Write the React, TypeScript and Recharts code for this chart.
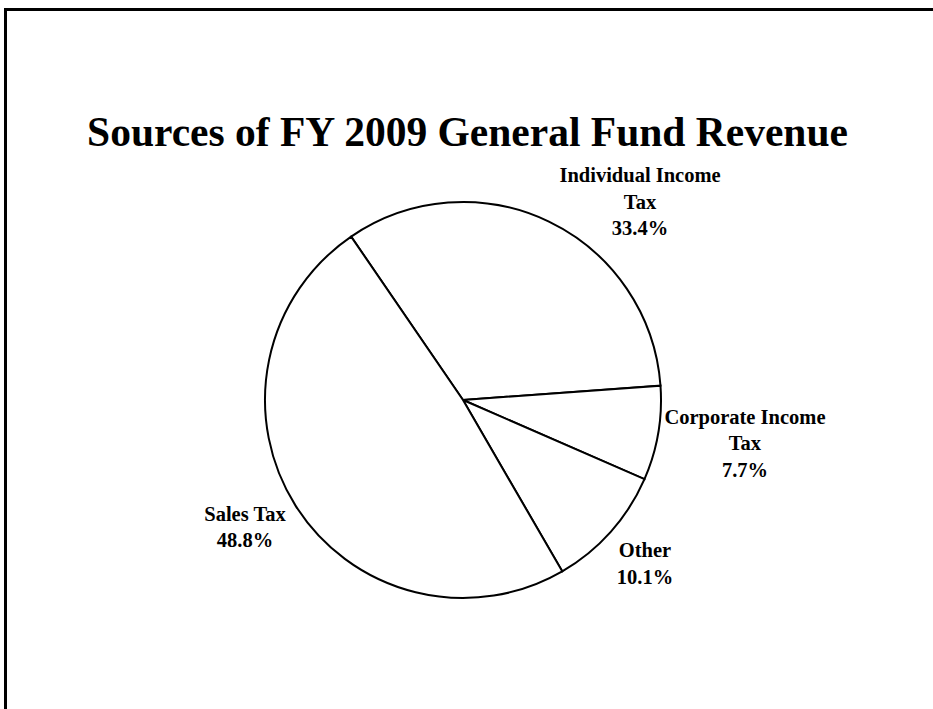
import React from "react";
import { PieChart, Pie, Cell } from "recharts";

const categories = ["Individual Income Tax", "Corporate Income Tax", "Other", "Sales Tax"];
const labelLines = [["Individual Income", "Tax"], ["Corporate Income", "Tax"], ["Other"], ["Sales Tax"]];
const shares = [33.4, 7.7, 10.1, 48.8];
const title = "Sources of FY 2009 General Fund Revenue";

const data = categories.map((name, i) => ({ name, value: shares[i] }));

// label anchor offsets from the pie center, in units of outer radius (x, first baseline y)
const labelOffsets = [
  [0.894, -1.1],
  [1.424, 0.121],
  [0.919, 0.793],
  [-1.101, 0.611],
];

const FONT = "'Liberation Serif', 'Times New Roman', serif";

const renderLabel = (props: any) => {
  const { cx, cy, outerRadius, index, value } = props;
  const [ox, oy] = labelOffsets[index];
  const x = cx + ox * outerRadius;
  const y = cy + oy * outerRadius;
  const lines = [...labelLines[index], `${Number(value).toFixed(1)}%`];
  return (
    <text
      key={`lbl-${index}`}
      x={x}
      y={y}
      textAnchor="middle"
      fontFamily={FONT}
      fontWeight="bold"
      fontSize={20.5}
      fill="#000"
    >
      {lines.map((l, i) => (
        <tspan key={i} x={x} dy={i === 0 ? 0 : 26.5}>
          {l}
        </tspan>
      ))}
    </text>
  );
};

export default function App() {
  return (
    <div
      style={{
        position: "absolute",
        left: 0,
        top: 0,
        width: 933,
        height: 709,
        overflow: "hidden",
        background: "#fff",
      }}
    >
      <div style={{ position: "absolute", left: 4, top: 8, width: 929, height: 3, background: "#000" }} />
      <div style={{ position: "absolute", left: 4, top: 8, width: 3, height: 701, background: "#000" }} />
      <svg width={933} height={709} style={{ position: "absolute", left: 0, top: 0 }}>
        <text
          x={467.5}
          y={146}
          textAnchor="middle"
          fontFamily={FONT}
          fontWeight="bold"
          fontSize={41.5}
          fill="#000"
        >
          {title}
        </text>
      </svg>
      <div style={{ position: "absolute", left: 0, top: 0 }}>
        <PieChart width={933} height={709} margin={{ top: 0, right: 0, bottom: 0, left: 0 }}>
          <Pie
            data={data}
            dataKey="value"
            nameKey="name"
            cx={463}
            cy={400}
            outerRadius={198}
            startAngle={124.4}
            endAngle={-235.6}
            stroke="#000"
            strokeWidth={2}
            label={renderLabel}
            labelLine={false}
            isAnimationActive={false}
          >
            {data.map((d, i) => (
              <Cell key={i} fill="#fff" stroke="#000" strokeWidth={2} />
            ))}
          </Pie>
        </PieChart>
      </div>
    </div>
  );
}
